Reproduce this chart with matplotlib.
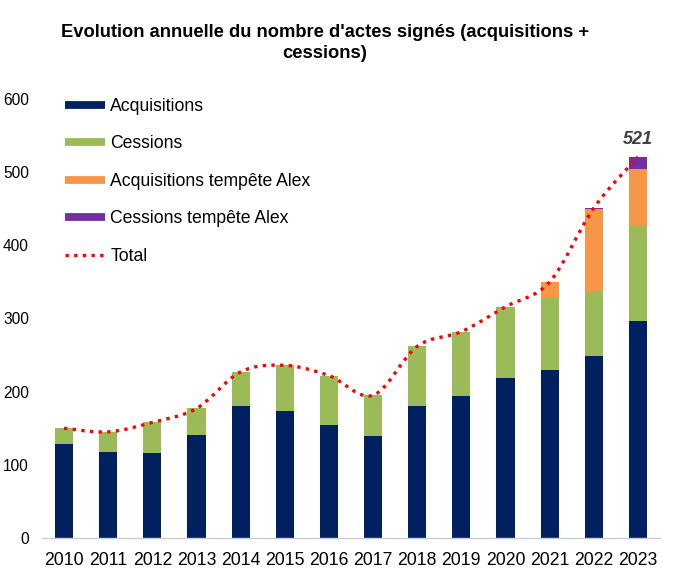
import matplotlib
matplotlib.use("Agg")
import matplotlib.pyplot as plt
from matplotlib.path import Path
from matplotlib.patches import PathPatch
from matplotlib.lines import Line2D
import numpy as np

years = ["2010", "2011", "2012", "2013", "2014", "2015", "2016",
         "2017", "2018", "2019", "2020", "2021", "2022", "2023"]
acquisitions = [129, 117, 116, 141, 180, 173, 154, 140, 181, 194, 218, 229, 249, 297]
cessions = [21, 28, 42, 36, 47, 63, 68, 55, 81, 88, 98, 99, 89, 129]
acq_alex = [0, 0, 0, 0, 0, 0, 0, 0, 0, 0, 0, 22, 111, 78]
cess_alex = [0, 0, 0, 0, 0, 0, 0, 0, 0, 0, 0, 0, 2, 17]
last_label = "521"

col_acq = "#002060"
col_cess = "#9BBB59"
col_acq_alex = "#F79646"
col_cess_alex = "#7030A0"
col_total = "#FF0000"

plt.rcParams['font.family'] = ['Liberation Sans', 'DejaVu Sans']

fig = plt.figure(figsize=(6.76, 5.85), dpi=100)
ax = fig.add_axes([42/676, 47/585, 618/676, 439/585])

x = np.arange(len(years))
a = np.array(acquisitions, float)
c = np.array(cessions, float)
aa = np.array(acq_alex, float)
ca = np.array(cess_alex, float)
w = 0.41
ax.bar(x, a, w, color=col_acq, zorder=2)
ax.bar(x, c, w, bottom=a, color=col_cess, zorder=2)
ax.bar(x, aa, w, bottom=a + c, color=col_acq_alex, zorder=2)
ax.bar(x, ca, w, bottom=a + c + aa, color=col_cess_alex, zorder=2)
total = a + c + aa + ca

# smoothed total line (Bezier, Excel-like smoothing)
P = np.column_stack([x, total])
verts = [P[0]]
codes = [Path.MOVETO]
n = len(P)
for i in range(n - 1):
    p0 = P[i - 1] if i > 0 else P[i]
    p1 = P[i]
    p2 = P[i + 1]
    p3 = P[i + 2] if i + 2 < n else P[i + 1]
    c1 = p1 + (p2 - p0) / 6.0
    c2 = p2 - (p3 - p1) / 6.0
    verts += [c1, c2, p2]
    codes += [Path.CURVE4] * 3
path = Path(verts, codes)
patch = PathPatch(path, facecolor='none', edgecolor=col_total, lw=2.4,
                  linestyle=(0, (1, 1.6)), capstyle='butt', zorder=3)
ax.add_patch(patch)

ax.text(x[-1], total[-1] + 12, last_label, ha='center', va='bottom',
        fontsize=13, fontweight='bold', fontstyle='italic', color='#404040')

ax.set_xlim(-0.5, len(years) - 0.5)
ax.set_ylim(0, 600)
ax.set_yticks(range(0, 601, 100))
ax.set_xticks(x)
ax.set_xticklabels(years, fontsize=12.7)
ax.tick_params(axis='y', length=0, pad=9.4, labelsize=11.2)
ax.tick_params(axis='x', length=0, pad=10)
for s in ['top', 'right', 'left']:
    ax.spines[s].set_visible(False)
ax.spines['bottom'].set_color('#C9CDD6')
ax.spines['bottom'].set_linewidth(1.0)

handles = [
    Line2D([], [], color=col_acq, lw=5.6, solid_capstyle='butt'),
    Line2D([], [], color=col_cess, lw=5.6, solid_capstyle='butt'),
    Line2D([], [], color=col_acq_alex, lw=5.6, solid_capstyle='butt'),
    Line2D([], [], color=col_cess_alex, lw=5.6, solid_capstyle='butt'),
    Line2D([], [], color=col_total, lw=2.4, linestyle=(0, (1, 1.6))),
]
labels = ["Acquisitions", "Cessions", "Acquisitions tempête Alex",
          "Cessions tempête Alex", "Total"]
leg = ax.legend(handles, labels, loc='upper left',
                bbox_to_anchor=(23/618, 1.0 + 1/439), frameon=False,
                fontsize=12.7, handlelength=2.27, handletextpad=0.3,
                labelspacing=1.16, borderpad=0, borderaxespad=0)

fig.text(325/676, 1 - 43/585, "Evolution annuelle du nombre d'actes signés (acquisitions +\ncessions)",
         ha='center', va='center', fontsize=13.2, fontweight='bold',
         family=['Liberation Sans Narrow', 'Liberation Sans'], linespacing=1.25)

fig.savefig("out.png", dpi=100)
